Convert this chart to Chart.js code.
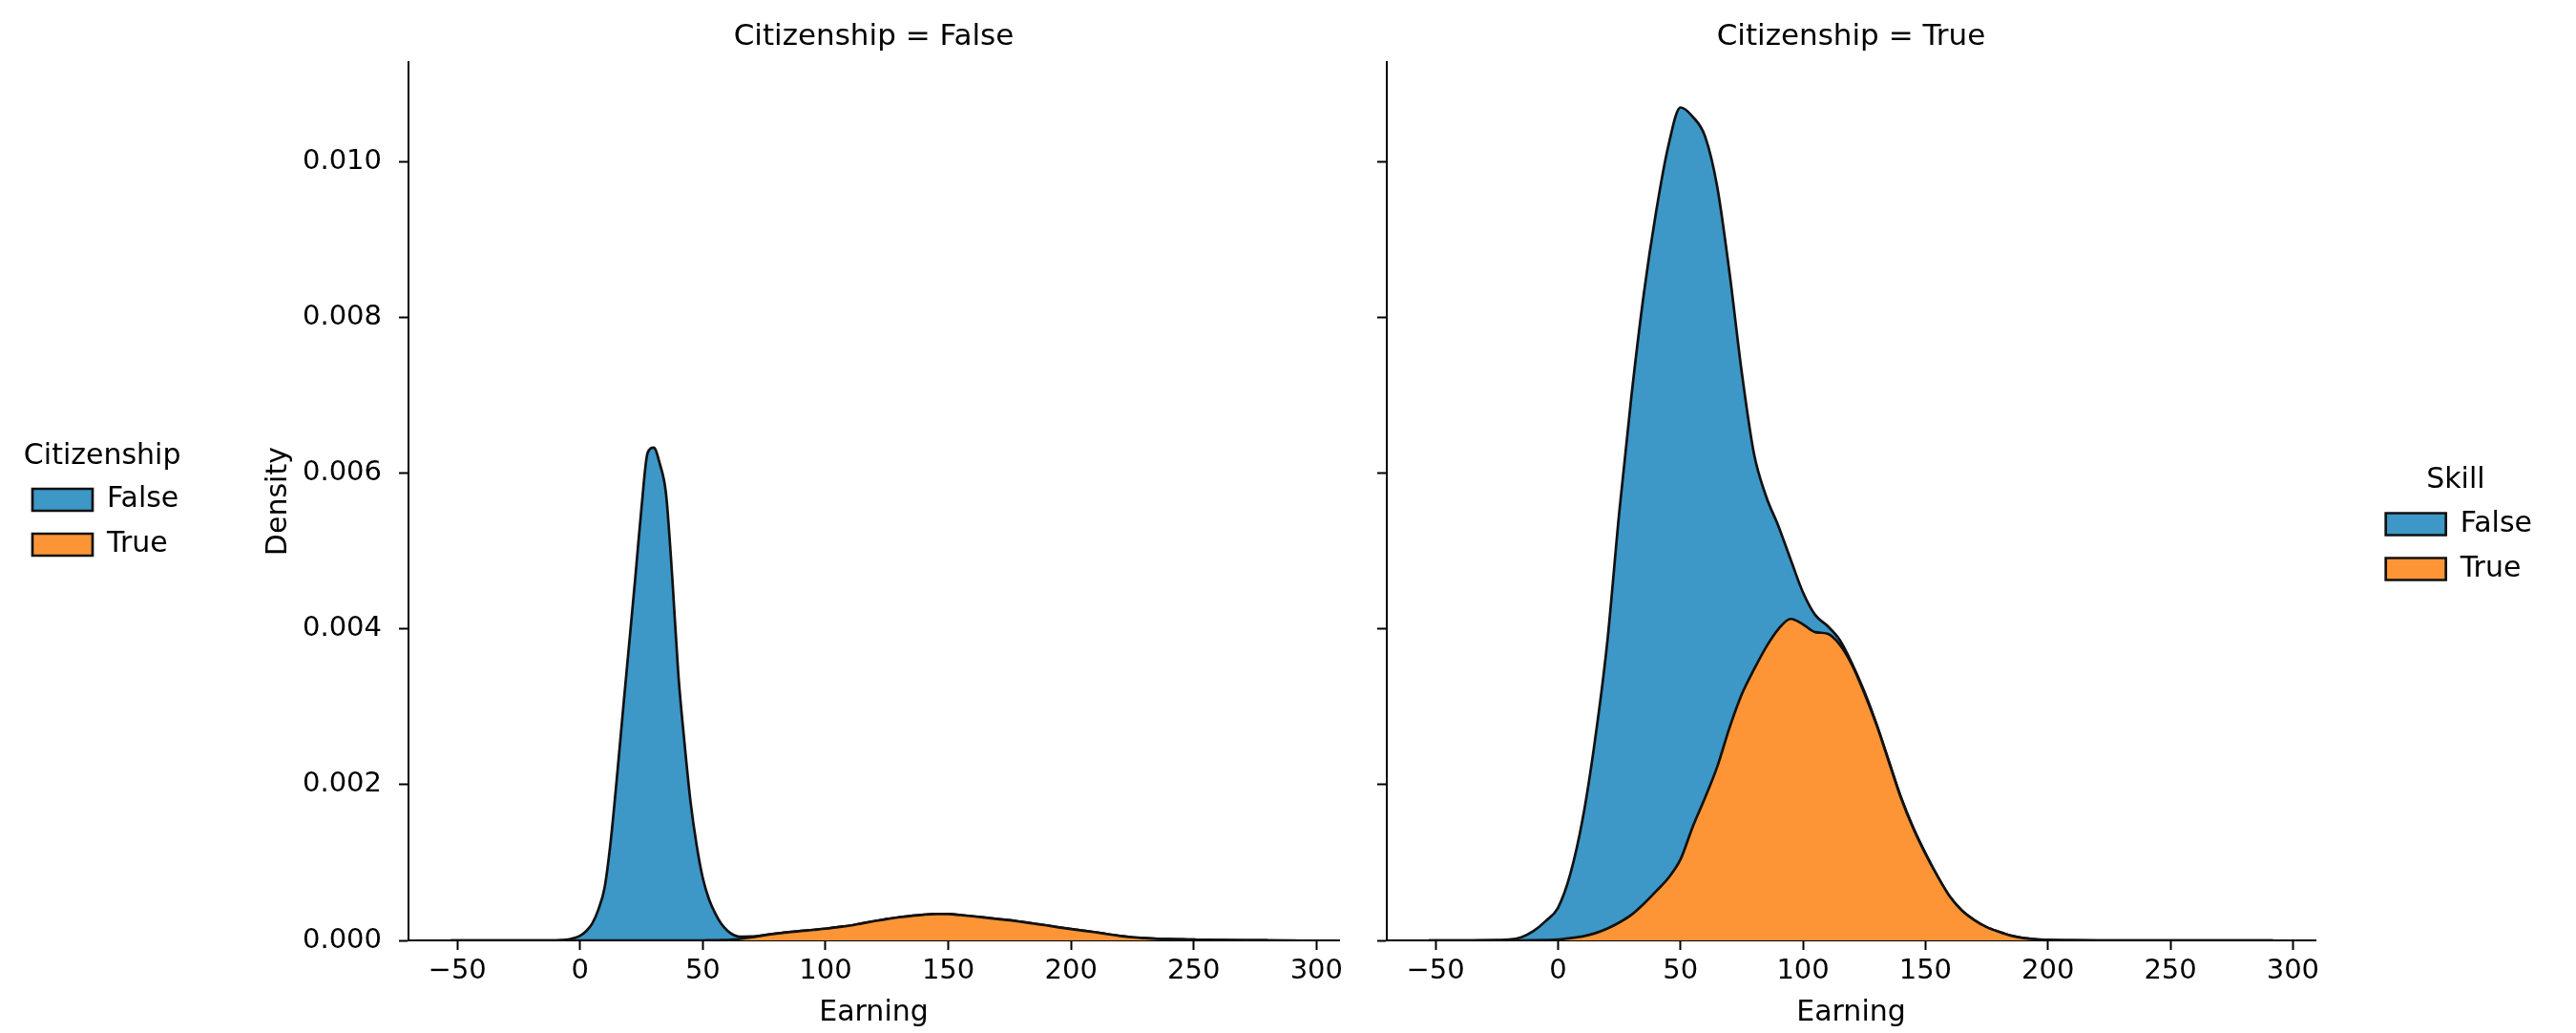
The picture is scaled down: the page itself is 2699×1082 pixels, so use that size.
<!DOCTYPE html>
<html>
<head>
<meta charset="utf-8">
<title>Earning density by skill, faceted by citizenship</title>
<script src="https://cdn.jsdelivr.net/npm/chart.js@4.4.1/dist/chart.umd.min.js"></script>
<style>
  html, body { margin: 0; padding: 0; background: #ffffff; }
  #wrap { position: relative; width: 2699px; height: 1082px; overflow: hidden; background: #ffffff; }
  canvas { position: absolute; top: 0; }
  #facetFalse { left: 0; }
  #facetTrue { left: 1300px; }
</style>
</head>
<body>
<div id="wrap">
  <canvas id="facetFalse" width="1440" height="1082"></canvas>
  <canvas id="facetTrue" width="1399" height="1082"></canvas>
</div>
<script>
// ---- data -------------------------------------------------------------
// Earning grid and stacked KDE layers, Citizenship = False
const EARNING_CIT_FALSE = [
  -52.7, -40, -30, -20, -10, -5,
  -2.5, 0, 2.5, 5, 7.5, 10, 12.5, 15, 17.5, 20, 22.5, 25, 27.5, 30, 32.5, 35, 37.5, 40,
  42.5, 45, 47.5, 50, 52.5, 55, 57.5, 60, 62.5, 65,
  70, 75, 80, 85, 90, 95, 100, 105, 110, 115, 120, 125, 130, 135, 140, 145, 150, 155, 160,
  165, 170, 175, 180, 185, 190, 195, 200, 205, 210, 215, 220, 225, 230, 235, 240, 245, 250,
  255, 260,
  270, 280, 291.9
];
const SKILL_FALSE_CIT_FALSE = [
  0, 0, 0, 0, 0, 0.00001,
  0.00003, 0.00006, 0.00012, 0.00022, 0.00040, 0.00068, 0.00128, 0.00209, 0.00296, 0.00381,
  0.00466, 0.00555, 0.00626, 0.00633, 0.00612, 0.00574, 0.00469, 0.00343,
  0.00255, 0.00178, 0.00122, 0.00080, 0.00053, 0.00035, 0.00021, 0.00012, 0.00006, 0.00003,
  0.00001, 0, 0, 0, 0, 0, 0, 0, 0, 0, 0, 0, 0, 0, 0, 0, 0, 0, 0,
  0, 0, 0, 0, 0, 0, 0, 0, 0, 0, 0, 0, 0, 0, 0, 0, 0,
  0, 0,
  0, 0, 0
];
const SKILL_TRUE_CIT_FALSE = [
  0, 0, 0, 0, 0, 0,
  0, 0, 0, 0, 0, 0, 0, 0, 0, 0, 0, 0, 0, 0, 0, 0, 0, 0,
  0, 0, 0, 0, 0.000001, 0.000002, 0.000004, 0.000006, 0.00001, 0.000018,
  0.00004, 0.000066, 0.000088, 0.000105, 0.00012, 0.000135, 0.00015, 0.00017, 0.00019,
  0.00022, 0.000248, 0.000275, 0.000297, 0.000315, 0.00033, 0.000338, 0.000338, 0.000325,
  0.00031, 0.000293, 0.000275, 0.000258, 0.000237, 0.000215, 0.000193, 0.000168, 0.000145,
  0.000125, 0.000104, 0.00008, 0.000057, 0.00004, 0.00003, 0.00002, 0.000016, 0.000013,
  0.00001, 0.000007, 0.000005,
  0.000002, 0.000001, 0
];

// Earning grid and stacked KDE layers, Citizenship = True
const EARNING_CIT_TRUE = [
  -52.7, -45, -40, -35, -30, -25, -20, -15, -10, -5,
  0, 5, 10, 15, 20, 25, 30, 35, 40, 45, 50, 55, 60, 65, 70, 75, 80, 85, 90, 95,
  100, 105, 110, 115, 120, 125, 130, 135, 140, 145, 150, 155, 160, 165, 170, 175, 180, 185,
  190, 195, 200,
  210, 220, 230, 240, 250, 260, 270, 280, 291.9
];
const SKILL_FALSE_CIT_TRUE = [
  0, 0, 0, 0, 0.000002, 0.000005, 0.00001, 0.00004, 0.000118, 0.000245,
  0.00041, 0.00082, 0.0015, 0.00246, 0.00365, 0.00527, 0.00667, 0.00783, 0.00872, 0.0094,
  0.00966, 0.00912, 0.0085, 0.00745, 0.00585, 0.00414, 0.00277, 0.00193, 0.00132, 0.00076,
  0.00041, 0.00022, 0.0001, 0.00006, 0.00002, 0.00002, 0.00001, 0.00001, 0.00001, 0.00001,
  0.00001, 0, 0, 0, 0, 0, 0, 0,
  0, 0, 0,
  0, 0, 0, 0, 0, 0, 0, 0, 0
];
const SKILL_TRUE_CIT_TRUE = [
  0, 0, 0, 0, 0, 0, 0, 0, 0.000002, 0.000005,
  0.00001, 0.00003, 0.00005, 0.00009, 0.00015, 0.00023, 0.00033, 0.00047, 0.00063, 0.0008,
  0.00104, 0.00146, 0.00183, 0.00223, 0.00273, 0.00316, 0.00348, 0.00377, 0.004, 0.00413,
  0.00406, 0.00396, 0.00394, 0.0038, 0.00354, 0.00318, 0.00277, 0.0023, 0.00183, 0.00144,
  0.00111, 0.00082, 0.00056, 0.00038, 0.00026, 0.00017, 0.00011, 0.00006,
  0.00003, 0.000015, 0.000008,
  0.000002, 0, 0, 0, 0, 0, 0, 0, 0
];

const SKILL_LEVELS = ['False', 'True'];
const FACET_TITLES = ['Citizenship = False', 'Citizenship = True'];
const X_TICKS = [-50, 0, 50, 100, 150, 200, 250, 300];
const X_TICK_LABELS = ['\u221250', '0', '50', '100', '150', '200', '250', '300'];
const Y_TICKS = [0, 0.002, 0.004, 0.006, 0.008, 0.010];
const Y_TICK_LABELS = ['0.000', '0.002', '0.004', '0.006', '0.008', '0.010'];
const X_LIMITS = [-69.9, 309.2];
const Y_LIMITS = [0, 0.01128];

// ---- styling / layout ---------------------------------------------------
const BLUE = '#3d97c7';
const ORANGE = '#fd9536';
const EDGE = '#111111';
const INK = '#000000';
const CANVAS_H = 1082;
const PLOT_BOTTOM = 985;           // x axis line
const LEFT_PAD_A = 17;
const PLOT_LEFT_A = 428;           // y spine of the first facet
const PLOT_LEFT_B = 153;           // y spine of the second facet (canvas coords)
const PLOT_RIGHT_B = 1126;
const CANVAS_B_W = 1399;
const RIGHT_PAD_B = 36;

Chart.defaults.font.family = "'DejaVu Sans', 'Liberation Sans', sans-serif";
Chart.defaults.color = INK;

function points(xs, ys) {
  return xs.map((x, i) => ({ x: x, y: ys[i] }));
}

function layers(xs, skillTrue, skillFalse) {
  const common = {
    borderColor: EDGE,
    borderWidth: 2.7,
    pointRadius: 0,
    pointHoverRadius: 0,
    cubicInterpolationMode: 'monotone'
  };
  return [
    Object.assign({ label: SKILL_LEVELS[1], data: points(xs, skillTrue),
                    backgroundColor: ORANGE, fill: 'origin' }, common),
    Object.assign({ label: SKILL_LEVELS[0], data: points(xs, skillFalse),
                    backgroundColor: BLUE, fill: '-1' }, common)
  ];
}

const tickMarks = {
  display: true, drawOnChartArea: false, drawTicks: true,
  tickLength: 10, tickColor: INK, tickWidth: 2
};
const spine = { display: true, color: INK, width: 2 };

function xAxis() {
  return {
    type: 'linear',
    min: X_LIMITS[0],
    max: X_LIMITS[1],
    afterBuildTicks: s => { s.ticks = X_TICKS.map(v => ({ value: v })); },
    afterFit: s => { s.height = CANVAS_H - PLOT_BOTTOM; s.paddingLeft = 0; s.paddingRight = 0; },
    ticks: {
      autoSkip: false, maxRotation: 0, minRotation: 0, padding: 5,
      font: { size: 29 }, color: INK,
      callback: (v, i) => X_TICK_LABELS[i]
    },
    grid: tickMarks,
    border: spine,
    title: { display: true, text: 'Earning', color: INK, font: { size: 30 },
             padding: { top: 0, bottom: 3 } }
  };
}

function yAxis(showLabels, widthFn) {
  return {
    type: 'linear',
    stacked: true,
    min: Y_LIMITS[0],
    max: Y_LIMITS[1],
    afterBuildTicks: s => { s.ticks = Y_TICKS.map(v => ({ value: v })); },
    afterFit: s => { s.width = widthFn(s); s.paddingTop = 0; s.paddingBottom = 0; },
    ticks: {
      display: showLabels, padding: 18, font: { size: 29 }, color: INK,
      callback: (v, i) => Y_TICK_LABELS[i]
    },
    grid: tickMarks,
    border: spine,
    title: { display: showLabels, text: 'Density', color: INK, font: { size: 30 },
             padding: { top: 77, bottom: 0 } }
  };
}

function legendOptions(position, fullSize, titleText, titleTop) {
  return {
    display: true,
    position: position,
    fullSize: fullSize,
    align: 'center',
    reverse: true,
    title: { display: true, text: titleText, color: INK, font: { size: 30 },
             padding: { top: titleTop, bottom: -7.5 } },
    labels: { boxWidth: 63, boxHeight: 23, padding: 17, color: INK, font: { size: 30 } }
  };
}

function facetTitle(text) {
  return {
    display: true, text: text, fullSize: false, color: INK,
    font: { size: 31, weight: 'normal' },
    padding: { top: 20, bottom: 8 }
  };
}

// ---- facet: Citizenship = False -----------------------------------------
new Chart(document.getElementById('facetFalse'), {
  type: 'line',
  data: { datasets: layers(EARNING_CIT_FALSE, SKILL_TRUE_CIT_FALSE, SKILL_FALSE_CIT_FALSE) },
  options: {
    responsive: false,
    devicePixelRatio: 1,
    animation: false,
    events: [],
    layout: { padding: { left: LEFT_PAD_A, right: 37, top: 0, bottom: 0 } },
    scales: {
      x: xAxis(),
      y: yAxis(true, s => PLOT_LEFT_A - LEFT_PAD_A - s.chart.legend.width)
    },
    plugins: {
      title: facetTitle(FACET_TITLES[0]),
      legend: legendOptions('left', false, 'Citizenship', 15.3),
      tooltip: { enabled: false }
    }
  }
});

// ---- facet: Citizenship = True ------------------------------------------
new Chart(document.getElementById('facetTrue'), {
  type: 'line',
  data: { datasets: layers(EARNING_CIT_TRUE, SKILL_TRUE_CIT_TRUE, SKILL_FALSE_CIT_TRUE) },
  options: {
    responsive: false,
    devicePixelRatio: 1,
    animation: false,
    events: [],
    layout: { padding: { left: 0, right: RIGHT_PAD_B, top: 0, bottom: 0 } },
    scales: {
      x: xAxis(),
      y: yAxis(false, () => PLOT_LEFT_B),
      // empty spacer column between the plot and the legend
      gap: {
        type: 'linear', position: 'right', axis: 'y',
        grid: { display: false }, border: { display: false }, ticks: { display: false },
        afterFit: s => {
          s.width = Math.max(0, CANVAS_B_W - RIGHT_PAD_B - s.chart.legend.width - PLOT_RIGHT_B);
        }
      }
    },
    plugins: {
      title: facetTitle(FACET_TITLES[1]),
      legend: legendOptions('right', true, 'Skill', 34.5),
      tooltip: { enabled: false }
    }
  }
});
</script>
</body>
</html>
